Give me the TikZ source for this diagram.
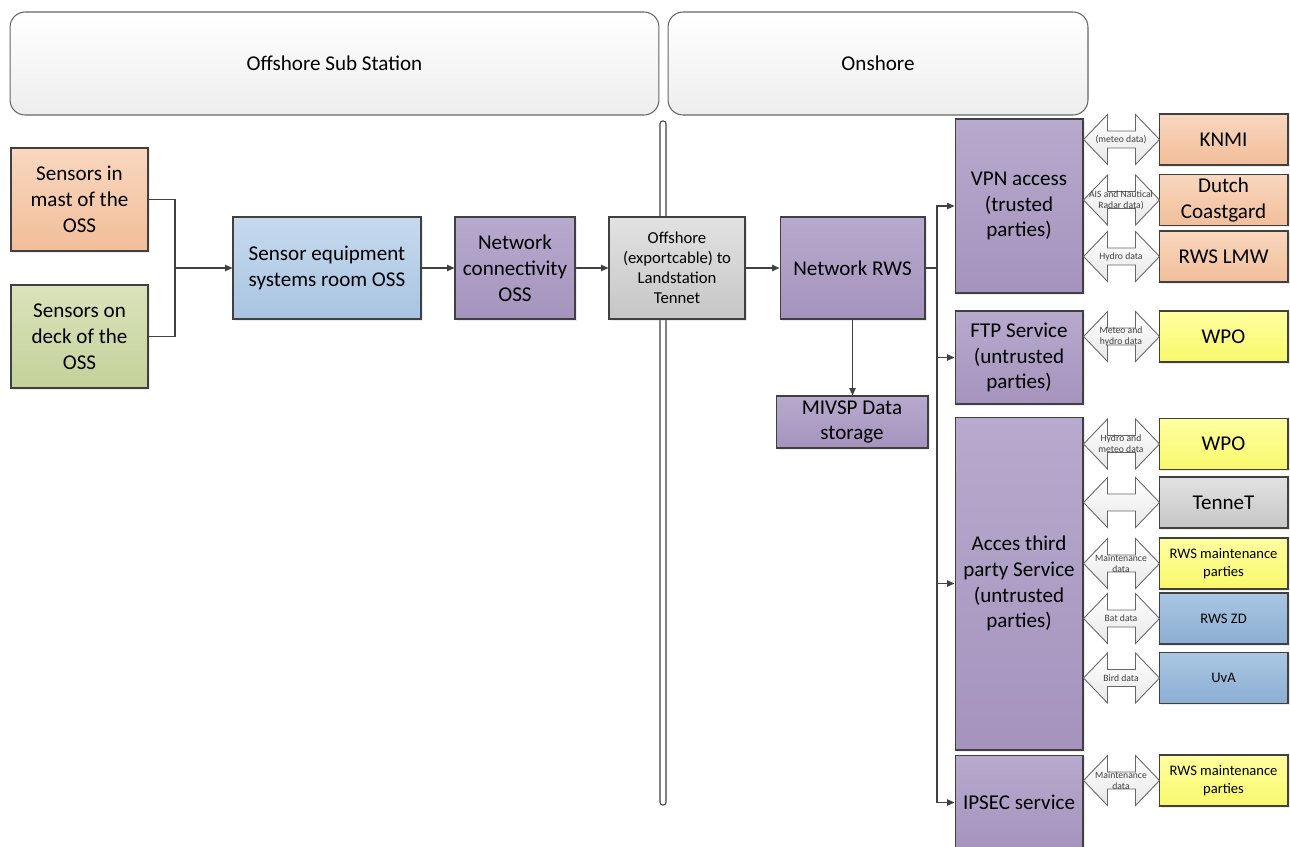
\documentclass[tikz,border=0pt]{standalone}
\usepackage{fontspec}
\setmainfont{Carlito}
\usetikzlibrary{positioning, calc, shadows, arrows.meta}
\definecolor{boxline}{HTML}{404040}
\definecolor{peachT}{HTML}{F9D7BF}
\definecolor{peachB}{HTML}{F1BE99}
\definecolor{greenT}{HTML}{DAE3BA}
\definecolor{greenB}{HTML}{C4D19A}
\definecolor{lblueT}{HTML}{C6DAEE}
\definecolor{lblueB}{HTML}{A8C4E1}
\definecolor{purpT}{HTML}{B7AACE}
\definecolor{purpB}{HTML}{A593BD}
\definecolor{greyT}{HTML}{E2E2E2}
\definecolor{greyB}{HTML}{C6C6C6}
\definecolor{yellT}{HTML}{FFFFA0}
\definecolor{yellB}{HTML}{F8F86C}
\definecolor{dblueT}{HTML}{A9C6E2}
\definecolor{dblueB}{HTML}{8DAED3}

\newcommand{\dataarrow}[3]{%
  \draw[dblarr] (#1.east |- #2.west) -- ++(24,-25) -- ++(0,16.5) -- ++(28,0) -- ++(0,-16.5)
    -- ++(24,25) -- ++(-24,25) -- ++(0,-16.5) -- ++(-28,0) -- ++(0,16.5) -- cycle;
  \node[arrlbl] at ($(#1.east |- #2.west)!0.5!(#2.west)$) {#3};
}

\begin{document}
\begin{tikzpicture}[x=0.02cm, y=-0.02cm,
    blk/.style={draw=boxline, line width=0.6pt, inner sep=1pt, align=center,
        font=\fontsize{12}{14.7}\selectfont,
        drop shadow={shadow xshift=1pt, shadow yshift=-1pt, opacity=0.15}},
    hdr/.style={draw=boxline!80, line width=0.6pt, rounded corners=0.3cm,
        top color=white, bottom color=black!7, minimum width=#1, minimum height=2.06cm,
        font=\fontsize{12}{14.7}\selectfont},
    side/.style={blk, minimum width=2.58cm, minimum height=1.02cm},
    small/.style={font=\fontsize{8.3}{10.6}\selectfont},
    fpeach/.style={top color=peachT, bottom color=peachB},
    fgreen/.style={top color=greenT, bottom color=greenB},
    flblue/.style={top color=lblueT, bottom color=lblueB},
    fpurp/.style={top color=purpT, bottom color=purpB},
    fgrey/.style={top color=greyT, bottom color=greyB},
    fyell/.style={top color=yellT, bottom color=yellB},
    fdblue/.style={top color=dblueT, bottom color=dblueB},
    conn/.style={draw=boxline, line width=0.6pt},
    arr/.style={conn, -{Triangle[length=4.2pt, width=3.6pt]}},
    dblarr/.style={draw=black!60, line width=0.5pt, top color=white, bottom color=black!9},
    arrlbl/.style={inner sep=0pt, align=center, text=black!75, font=\fontsize{5.5}{6.4}\selectfont}]

\useasboundingbox (0,0) rectangle (1290,846);

% headers
\node[hdr=12.98cm] (hdrOff) at (334.5,63.5) {Offshore Sub Station};
\node[hdr=8.4cm] (hdrOn) at (878,63.5) {Onshore};

% cable
\draw[draw=boxline, line width=0.6pt, fill=white, rounded corners=1.5pt] (660,121) rectangle (666,805);

% offshore side
\node[blk, fpeach, minimum width=2.74cm, minimum height=2.06cm] (mast) at (79.5,199.5) {Sensors in\\mast of the\\OSS};
\node[blk, fgreen, minimum width=2.74cm, minimum height=2.06cm] (deck) at (79.5,336.5) {Sensors on\\deck of the\\OSS};
\node[blk, flblue, minimum width=3.76cm, minimum height=2.04cm] (sensEq) at (327,268) {Sensor equipment\\systems room OSS};
\node[blk, fpurp, minimum width=2.4cm, minimum height=2.04cm] (netOss) at (515,268) {Network\\connectivity\\OSS};
\node[blk, fgrey, minimum width=2.72cm, minimum height=2.04cm, font=\fontsize{9.5}{11.4}\selectfont] (export) at (677,268) {Offshore\\(exportcable) to\\Landstation\\Tennet};

% onshore side
\node[blk, fpurp, minimum width=2.9cm, minimum height=2.04cm] (netRws) at (852.5,268) {Network RWS};
\node[blk, fpurp, minimum width=3.04cm, minimum height=1.04cm] (mivsp) at (852,422) {MIVSP Data\\storage};

\node[blk, fpurp, minimum width=2.56cm, minimum height=3.48cm] (vpn) at (1019,206) {VPN access\\(trusted\\parties)};
\node[blk, fpurp, minimum width=2.56cm, minimum height=1.86cm] (ftp) at (1019,357.5) {FTP Service\\(untrusted\\parties)};
\node[blk, fpurp, minimum width=2.56cm, minimum height=6.66cm] (acces) at (1019,583.5) {Acces third\\party Service\\(untrusted\\parties)};
\node[blk, fpurp, minimum width=2.56cm, minimum height=1.9cm] (ipsec) at (1019,802.5) {IPSEC service};

% parties
\node[side, fpeach] (knmi) at (1223.5,139.5) {KNMI};
\node[side, fpeach] (coast) at (1223.5,200) {Dutch\\Coastgard};
\node[side, fpeach] (lmw) at (1223.5,256.5) {RWS LMW};
\node[side, fyell] (wpoA) at (1223.5,336.5) {WPO};
\node[side, fyell] (wpoB) at (1223.5,444) {WPO};
\node[side, fgrey] (tennet) at (1223.5,502.5) {TenneT};
\node[side, fyell, small] (maintA) at (1223.5,563.5) {RWS maintenance\\parties};
\node[side, fdblue, small] (rwsZd) at (1223.5,618.5) {RWS ZD};
\node[side, fdblue, small] (uva) at (1223.5,678) {UvA};
\node[side, fyell, small] (maintB) at (1223.5,780.5) {RWS maintenance\\parties};

% connectors
\coordinate (join) at (175,268);
\coordinate (split) at (937,268);
\draw[conn] (mast.east) -| (join);
\draw[conn] (deck.east) -| (join);
\draw[arr] (join) -- (sensEq.west);
\draw[arr] (sensEq) -- (netOss);
\draw[arr] (netOss) -- (export);
\draw[arr] (export) -- (netRws);
\draw[arr] (netRws.south) -- (netRws.south |- mivsp.north);
\draw[conn] (netRws.east) -- (split);
\draw[arr] (split) |- (vpn.west);
\draw[arr] (split) |- (ftp.west);
\draw[arr] (split) |- (acces.west);
\draw[arr] (split) |- (ipsec.west);

% data flows
\dataarrow{vpn}{knmi}{(meteo data)}
\dataarrow{vpn}{coast}{AIS and Nautical\\Radar data)}
\dataarrow{vpn}{lmw}{Hydro data}
\dataarrow{ftp}{wpoA}{Meteo and\\hydro data}
\dataarrow{acces}{wpoB}{Hydro and\\meteo data}
\dataarrow{acces}{tennet}{}
\dataarrow{acces}{maintA}{Maintenance\\data}
\dataarrow{acces}{rwsZd}{Bat data}
\dataarrow{acces}{uva}{Bird data}
\dataarrow{ipsec}{maintB}{Maintenance\\data}

\end{tikzpicture}
\end{document}
